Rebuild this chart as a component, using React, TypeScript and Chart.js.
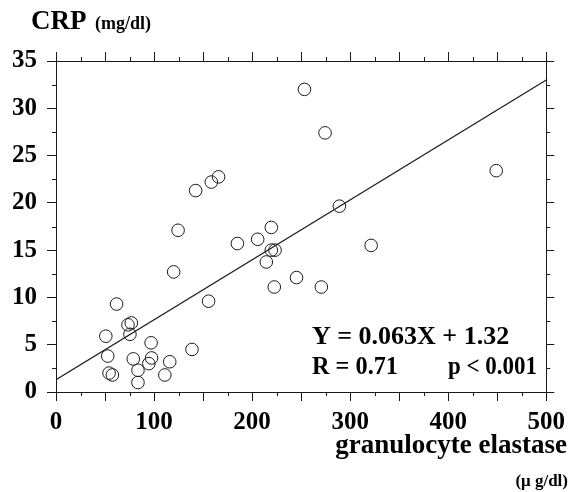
import React, { useEffect, useRef } from "react";
import { Chart, registerables } from "chart.js";

Chart.register(...registerables);

// granulocyte elastase (µg/dl)
const elastase = [
  50.8, 52.8, 54.1, 57.5, 61.8, 73.4, 76.8, 75.4, 78.8, 83.6, 83.6, 94.7, 97.5,
  97, 111, 116, 120, 124.5, 138.7, 142.4, 155.6, 158.4, 165.8, 185, 205.7,
  214.5, 219.6, 219.6, 223.4, 222.6, 245.3, 253.4, 270.6, 274.4, 289, 321.4, 449,
];
// CRP (mg/dl)
const crp = [
  5.9, 3.8, 2.0, 1.8, 9.3, 7.1, 7.3, 6.1, 3.5, 2.3, 1.0, 3.0, 3.6, 5.2, 1.8,
  3.2, 12.7, 17.1, 4.5, 21.3, 9.6, 22.2, 22.75, 15.7, 16.15, 13.75, 17.4, 15.0,
  15.0, 11.1, 12.1, 32.0, 11.1, 27.4, 19.65, 15.5, 23.4,
];
// regression line end points
const fitX = [0, 500];
const fitY = [1.3, 33.0];

const xMinorTicks = [25, 75, 125, 175, 225, 275, 325, 375, 425, 475];
const yMinorTicks = [2.5, 7.5, 12.5, 17.5, 22.5, 27.5, 32.5];

const yTitle = "CRP";
const yUnit = "(mg/dl)";
const xTitle = "granulocyte elastase";
const xUnit = "(\u03BC g/dl)";
const eqLine1 = "Y = 0.063X + 1.32";
const eqLine2a = "R = 0.71";
const eqLine2b = "p < 0.001";

const SERIF = '"Liberation Serif", "Times New Roman", serif';
const INK = "#1a1a1a";

const decorations = {
  id: "decorations",
  afterDraw(chart: any) {
    const { ctx, chartArea: a, scales } = chart;
    const x = scales.x;
    const y = scales.y;
    ctx.save();
    ctx.strokeStyle = INK;
    ctx.lineWidth = 1;
    ctx.beginPath();
    for (const v of xMinorTicks) {
      const px = Math.round(x.getPixelForValue(v)) + 0.5;
      ctx.moveTo(px, a.bottom);
      ctx.lineTo(px, a.bottom + 4);
      ctx.moveTo(px, a.top);
      ctx.lineTo(px, a.top - 4);
    }
    for (const v of yMinorTicks) {
      const py = Math.round(y.getPixelForValue(v)) + 0.5;
      ctx.moveTo(a.left, py);
      ctx.lineTo(a.left - 4, py);
      ctx.moveTo(a.right, py);
      ctx.lineTo(a.right + 4, py);
    }
    ctx.stroke();

    ctx.fillStyle = "#000";
    ctx.textBaseline = "alphabetic";
    ctx.textAlign = "left";
    ctx.font = `bold 27px ${SERIF}`;
    ctx.fillText(yTitle, 31, 29);
    ctx.font = `bold 18px ${SERIF}`;
    ctx.fillText(yUnit, 95, 29);

    ctx.font = `bold 26px ${SERIF}`;
    ctx.fillText(eqLine1, 312, 344, 201);
    ctx.fillText(eqLine2a, 312, 374, 86);
    ctx.fillText(eqLine2b, 448, 374, 89);

    ctx.textAlign = "right";
    ctx.font = `bold 27px ${SERIF}`;
    ctx.fillText(xTitle, 567, 453);
    ctx.font = `bold 17px ${SERIF}`;
    ctx.fillText(xUnit, 568, 486);
    ctx.restore();
  },
};

export default function App() {
  const ref = useRef<HTMLCanvasElement | null>(null);

  useEffect(() => {
    if (!ref.current) return;
    const tickFont = { family: SERIF, size: 25, weight: "bold" as const };
    const gridBase = {
      drawOnChartArea: false,
      drawTicks: true,
      tickLength: 9,
      tickColor: INK,
      tickWidth: 1,
    };
    const border = { display: true, color: INK, width: 1 };
    const chart = new Chart(ref.current, {
      type: "scatter",
      data: {
        datasets: [
          {
            type: "scatter",
            label: "patients",
            data: elastase.map((v, i) => ({ x: v, y: crp[i] })),
            pointStyle: "circle",
            pointRadius: 6.3,
            pointBorderWidth: 1,
            borderColor: INK,
            backgroundColor: "rgba(0,0,0,0)",
            xAxisID: "x",
            yAxisID: "y",
          } as any,
          {
            type: "line",
            label: "fit",
            data: fitX.map((v, i) => ({ x: v, y: fitY[i] })),
            borderColor: INK,
            borderWidth: 1.2,
            pointRadius: 0,
            fill: false,
            xAxisID: "x",
            yAxisID: "y",
          } as any,
        ],
      },
      options: {
        animation: false,
        responsive: false,
        layout: { padding: 0 },
        plugins: {
          legend: { display: false },
          tooltip: { enabled: false },
        },
        scales: {
          x: {
            type: "linear",
            position: "bottom",
            min: 0,
            max: 500,
            ticks: {
              stepSize: 50,
              autoSkip: false,
              maxRotation: 0,
              color: "#000",
              font: tickFont,
              padding: 7,
              callback: (v: any) => (Number(v) % 100 === 0 ? String(v) : ""),
            },
            grid: gridBase,
            border,
            afterFit: (s: any) => {
              s.height = 100;
            },
          },
          x2: {
            type: "linear",
            position: "top",
            min: 0,
            max: 500,
            ticks: { stepSize: 50, display: false },
            grid: gridBase,
            border,
            afterFit: (s: any) => {
              s.height = 61;
            },
          },
          y: {
            type: "linear",
            position: "left",
            min: 0,
            max: 35,
            ticks: {
              stepSize: 5,
              color: "#000",
              font: tickFont,
              padding: 10,
            },
            grid: gridBase,
            border,
            afterFit: (s: any) => {
              s.width = 56;
            },
          },
          y2: {
            type: "linear",
            position: "right",
            min: 0,
            max: 35,
            ticks: { stepSize: 5, display: false },
            grid: { ...gridBase, tickLength: 8 },
            border,
            afterFit: (s: any) => {
              s.width = 23;
            },
          },
        },
      } as any,
      plugins: [decorations],
    });
    return () => chart.destroy();
  }, []);

  return (
    <div
      style={{
        position: "fixed",
        left: 0,
        top: 0,
        width: 572,
        height: 492,
        background: "#fff",
      }}
    >
      <canvas ref={ref} width={572} height={492} />
    </div>
  );
}
